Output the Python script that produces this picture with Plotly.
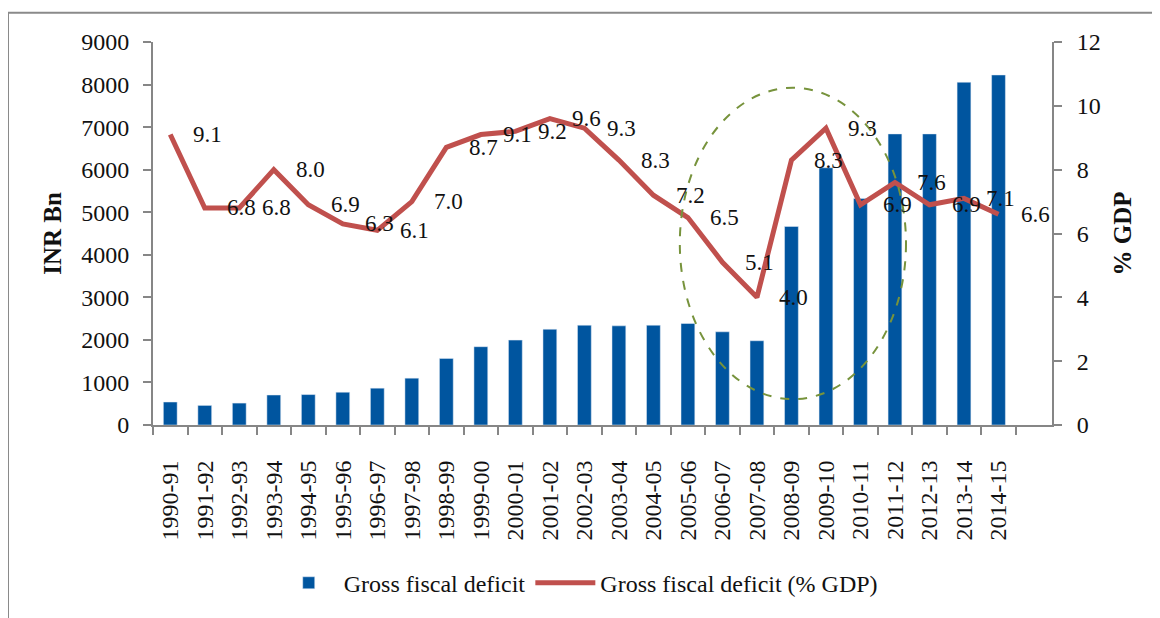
import plotly.graph_objects as go

years = ["1990-91", "1991-92", "1992-93", "1993-94", "1994-95", "1995-96",
         "1996-97", "1997-98", "1998-99", "1999-00", "2000-01", "2001-02",
         "2002-03", "2003-04", "2004-05", "2005-06", "2006-07", "2007-08",
         "2008-09", "2009-10", "2010-11", "2011-12", "2012-13", "2013-14",
         "2014-15"]

# Gross fiscal deficit, INR Bn
gfd_inr = [540, 460, 515, 705, 715, 770, 865, 1100, 1565, 1840, 1995, 2250,
           2345, 2330, 2345, 2385, 2190, 1980, 4665, 6045, 5325, 6840, 6840,
           8055, 8225]

# Gross fiscal deficit, % of GDP
gfd_pct = [9.1, 6.8, 6.8, 8.0, 6.9, 6.3, 6.1, 7.0, 8.7, 9.1, 9.2, 9.6, 9.3,
           8.3, 7.2, 6.5, 5.1, 4.0, 8.3, 9.3, 6.9, 7.6, 6.9, 7.1, 6.6]

serif = "Liberation Serif"
axis_grey = "#868686"

fig = go.Figure()
fig.add_trace(go.Bar(x=years, y=gfd_inr, name="Gross fiscal deficit",
                     marker_color="#00559F", width=0.4))
fig.add_trace(go.Scatter(x=years, y=gfd_pct, name="Gross fiscal deficit (% GDP)",
                         mode="lines", yaxis="y2",
                         line=dict(color="#C0504D", width=5)))

# data labels sit one slot to the right of their points, as in the original
annots = [
    dict(x=yr, y=v, xref="x", yref="y2", text="{:.1f}".format(v),
         showarrow=False, xshift=37, font=dict(family=serif, size=23, color="#111"))
    for yr, v in zip(years, gfd_pct)
]

# page body adds an 8px offset, so the figure is 8px smaller than the window
fig.update_layout(
    width=1152, height=610,
    margin=dict(l=145, r=108, t=34, b=191),
    paper_bgcolor="white", plot_bgcolor="white",
    font=dict(family=serif, size=24, color="#111"),
    showlegend=True,
    legend=dict(orientation="h", x=0.473, xanchor="center", y=-0.413,
                yanchor="middle", font=dict(size=24), itemwidth=60),
    xaxis=dict(type="category", tickangle=-90, showline=True, linecolor=axis_grey,
               linewidth=2, ticks="outside", tickson="boundaries", ticklen=8,
               tickcolor=axis_grey, tickwidth=2, showgrid=False,
               ticklabelstandoff=24),
    yaxis=dict(range=[0, 9000], dtick=1000, showgrid=False, showline=True,
               linecolor=axis_grey, linewidth=2, ticks="outside", ticklen=8,
               tickcolor=axis_grey, tickwidth=2, zeroline=False,
               ticklabelstandoff=9,
               title=dict(text="<b>INR Bn</b>", standoff=12, font=dict(size=25))),
    yaxis2=dict(range=[0, 12], dtick=2, overlaying="y", side="right",
                showgrid=False, showline=True, linecolor=axis_grey, linewidth=2,
                ticks="outside", ticklen=8, tickcolor=axis_grey, tickwidth=2,
                zeroline=False, ticklabelstandoff=10,
                title=dict(text="<b>% GDP</b>", standoff=14, font=dict(size=25))),
    annotations=annots,
    shapes=[
        dict(type="circle", xref="paper", yref="paper",
             x0=0.586, x1=0.8376, y0=0.0675, y1=0.8805,
             line=dict(color="#77933C", width=2, dash="dash")),
        dict(type="rect", xref="paper", yref="paper",
             x0=-0.1613, x1=1.2, y0=-0.6, y1=1.0766,
             line=dict(color="#8a8a8a", width=2)),
    ],
)

fig.write_html("out.html")
